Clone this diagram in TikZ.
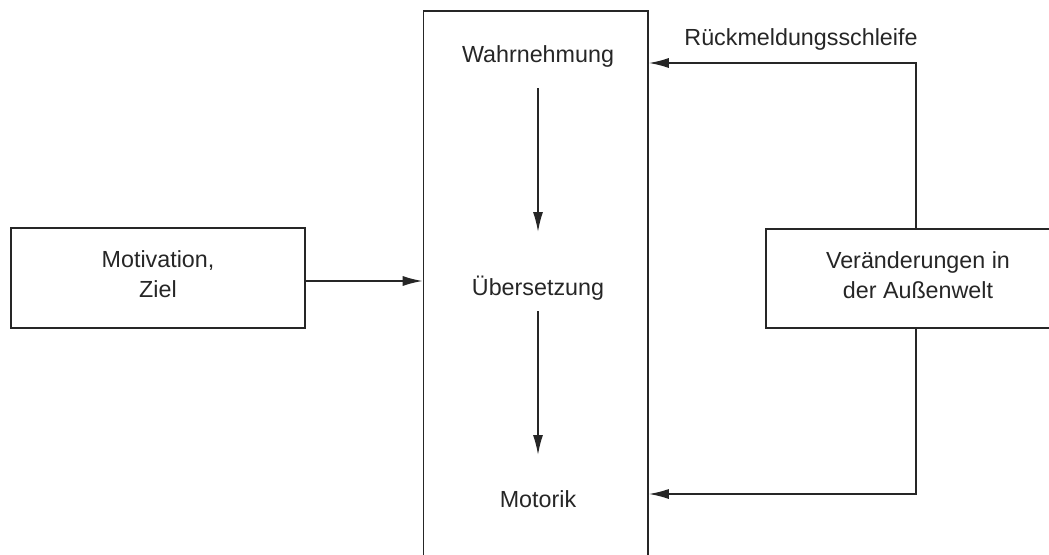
\documentclass[tikz,border=0pt]{standalone}
\usepackage{fontspec}
\setmainfont{Liberation Sans}
\usetikzlibrary{arrows.meta}
\begin{document}
\begin{tikzpicture}[x=1pt,y=-1pt,
  line/.style={line width=1.6pt,draw=black!85},
  arr/.style={line,-{Latex[length=20pt,width=10pt]}},
  box/.style={line,rectangle,inner sep=0pt,align=center},
  txt/.style={inner sep=0pt,align=center,font=\fontsize{23.3}{29.5}\selectfont,text=black!85}]
\useasboundingbox (0,0) rectangle (1049,554);
\clip (0,0) rectangle (1049,554);
\fill[white] (0,0) rectangle (1049,554);
% boxes
\node[box,minimum width=294pt,minimum height=100pt] (motiv) at (158,278) {};
\node[txt] (motivt) at (158,274) {Motivation,\\Ziel};
\node[box,minimum width=224.5pt,minimum height=600pt] (proc) at (535.75,311) {};
\node[box,minimum width=304pt,minimum height=99pt] (welt) at (918,278.5) {};
\node[txt] (weltt) at (918,275) {Veränderungen in\\der Außenwelt};
% inner texts
\node[txt] (wahr) at (538,56) {Wahrnehmung};
\node[txt] (ueber) at (538,288) {Übersetzung};
\node[txt] (motor) at (538,499) {Motorik};
\node[txt] (rueck) at (801,39) {Rückmeldungsschleife};
% inner arrows
\coordinate (a1s) at (538,88);
\coordinate (a1e) at (538,232);
\coordinate (a2s) at (538,311);
\coordinate (a2e) at (538,455);
\draw[arr] (a1s) -- (a1e);
\draw[arr] (a2s) -- (a2e);
% motivation arrow
\draw[arr] (motiv.east |- 0,281) -- (proc.west |- 0,281);
% feedback loop
\coordinate (ftop) at (916,63);
\coordinate (fbot) at (916,494);
\draw[arr] (welt.north -| ftop) -- (ftop) -- (proc.east |- ftop);
\draw[arr] (welt.south -| fbot) -- (fbot) -- (proc.east |- fbot);
\end{tikzpicture}
\end{document}
